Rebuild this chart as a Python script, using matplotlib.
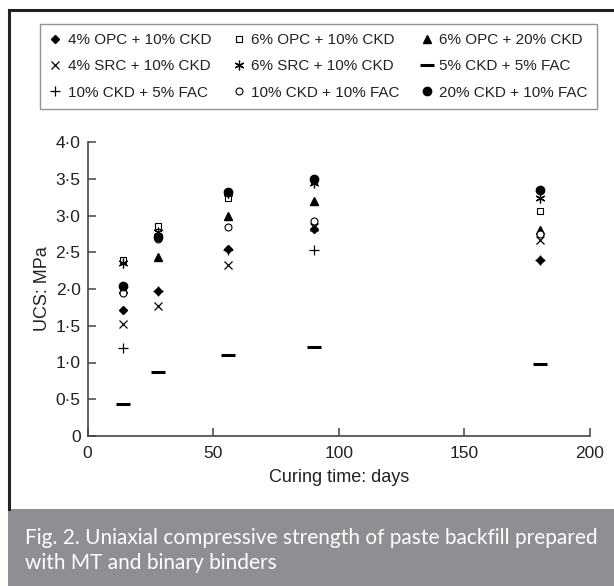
import matplotlib.pyplot as plt
from matplotlib.ticker import FuncFormatter
from matplotlib.patches import Rectangle
from matplotlib.lines import Line2D

# --- DATA ---
days = [14, 28, 56, 90, 180]

labels = [
    "4% OPC + 10% CKD", "6% OPC + 10% CKD", "6% OPC + 20% CKD",
    "4% SRC + 10% CKD", "6% SRC + 10% CKD", "5% CKD + 5% FAC",
    "10% CKD + 5% FAC", "10% CKD + 10% FAC", "20% CKD + 10% FAC",
]

opc4_ckd10 = [1.72, 1.97, 2.54, 2.81, 2.39]
opc6_ckd10 = [2.40, 2.86, 3.24, 3.47, 3.06]
opc6_ckd20 = [2.00, 2.44, 2.99, 3.20, 2.80]
src4_ckd10 = [1.53, 1.77, 2.32, 2.85, 2.67]
src6_ckd10 = [2.35, 2.78, 3.30, 3.44, 3.24]
ckd5_fac5 = [0.43, 0.87, 1.10, 1.21, 0.98]
ckd10_fac5 = [1.20, 1.97, 2.53, 2.53, 2.39]
ckd10_fac10 = [1.95, 2.68, 2.85, 2.92, 2.75]
ckd20_fac10 = [2.04, 2.71, 3.32, 3.49, 3.35]

series = [opc4_ckd10, opc6_ckd10, opc6_ckd20,
          src4_ckd10, src6_ckd10, ckd5_fac5,
          ckd10_fac5, ckd10_fac10, ckd20_fac10]

# marker styles: (marker, size, facecolor, edgewidth)
styles = [
    ("D", 4.5, "black", 1.0),
    ("s", 5, "white", 0.8),
    ("^", 6, "black", 1.0),
    ("x", 6, "black", 0.9),
    ((6, 2, 0), 7, "black", 0.9),
    ("_", 10, "black", 2.2),
    ("+", 7, "black", 0.9),
    ("o", 5, "white", 0.8),
    ("o", 6, "black", 1.0),
]

plt.rcParams["font.family"] = ["Liberation Sans", "DejaVu Sans"]

fig = plt.figure(figsize=(6.14, 5.86), dpi=100)
ax = fig.add_axes([87.5 / 614, 1 - 436 / 586, 502.5 / 614, 294 / 586])

handles = []
for vals, lab, (m, ms, fc, mew) in zip(series, labels, styles):
    h, = ax.plot(days, vals, linestyle="none", marker=m, markersize=ms,
                 markerfacecolor=fc, markeredgecolor="black",
                 markeredgewidth=mew, label=lab, color="black")
    handles.append(h)

ax.set_xlim(0, 200)
ax.set_ylim(0, 4)
ax.set_xticks([0, 50, 100, 150, 200])
ax.set_yticks([0, 0.5, 1, 1.5, 2, 2.5, 3, 3.5, 4])
ax.yaxis.set_major_formatter(FuncFormatter(
    lambda v, p: "0" if v == 0 else f"{v:.1f}".replace(".", "\u00b7")))
ax.spines["top"].set_visible(False)
ax.spines["right"].set_visible(False)
for s in ["left", "bottom"]:
    ax.spines[s].set_color("#444444")
    ax.spines[s].set_linewidth(1.2)
ax.tick_params(direction="in", length=6, width=1.1, color="#444444",
               labelsize=12.5, labelcolor="#222222")
ax.tick_params(axis="x", pad=7)
ax.tick_params(axis="y", pad=5)
ax.set_xlabel("Curing time: days", fontsize=13, color="#222222", labelpad=6)
ax.set_ylabel("UCS: MPa", fontsize=13, color="#222222", labelpad=3)

# legend: rows as in the reference (matplotlib fills columns first)
order = [0, 3, 6, 1, 4, 7, 2, 5, 8]
leg = fig.legend([handles[i] for i in order], [labels[i] for i in order],
                 loc="upper left", ncol=3, mode="expand",
                 bbox_to_anchor=(40 / 614, 1 - 106 / 586, 557 / 614, 82 / 586),
                 borderaxespad=0,
                 frameon=True, fancybox=False, fontsize=11,
                 handlelength=0.8, handletextpad=0.4, columnspacing=0.6,
                 labelspacing=0.8, borderpad=0.6, labelcolor="#222222")
leg.get_frame().set_edgecolor("#777777")
leg.get_frame().set_linewidth(1.0)

# outer frame (cropped at the right)
fig.add_artist(Line2D([9 / 614, 1], [1 - 10 / 586, 1 - 10 / 586],
                      color="#222222", linewidth=2.2))
fig.add_artist(Line2D([9 / 614, 9 / 614], [1 - 10 / 586, 77 / 586],
                      color="#222222", linewidth=2.2))

# caption box
fig.add_artist(Rectangle((8 / 614, 0), 1, 77 / 586, facecolor="#8e8f93",
                         edgecolor="none"))
fig.text(25 / 614, 1 - 538 / 586,
         "Fig. 2. Uniaxial compressive strength of paste backfill prepared",
         color="white", fontsize=15, family=["Lato", "DejaVu Sans"], va="center")
fig.text(25 / 614, 1 - 563 / 586, "with MT and binary binders",
         color="white", fontsize=15, family=["Lato", "DejaVu Sans"], va="center")

fig.savefig("out.png", dpi=100)
